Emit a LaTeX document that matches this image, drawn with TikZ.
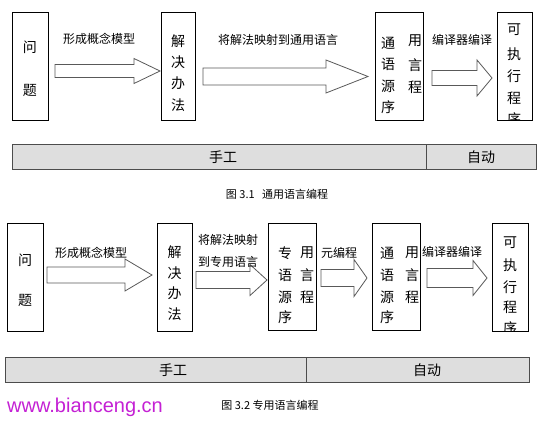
\documentclass[tikz,border=0pt]{standalone}
\usepackage{fontspec}
\newfontfamily\cjk{Noto Sans CJK SC}
\newfontfamily\wmfont{Liberation Sans}
\definecolor{barfill}{RGB}{222,222,222}
\definecolor{wmcolor}{RGB}{196,32,212}
\tikzset{
  stepbox/.style={draw=black, line width=0.8pt, anchor=north west, inner sep=0pt},
  boxchar/.style={font=\cjk\fontsize{14}{14}\selectfont, inner sep=0pt},
  lbl/.style={font=\cjk\fontsize{12}{22}\selectfont, inner sep=0pt, align=center},
  fatarrow/.style={draw=black!65, line width=0.8pt, fill=white},
  handbar/.style={draw=black!70, line width=0.8pt, fill=barfill, anchor=north west, inner sep=0pt, minimum height=25pt},
  bartext/.style={font=\cjk\fontsize{14}{14}\selectfont, inner sep=0pt},
  caption/.style={font=\cjk\fontsize{11}{13}\selectfont, inner sep=0pt}
}
% shaft start, shaft end, tip, centre y, shaft half height, head half height
\newcommand{\blockarrow}[6]{%
  \draw[fatarrow] (#1,#4-#5) -- (#2,#4-#5) -- (#2,#4-#6) -- (#3,#4)
    -- (#2,#4+#6) -- (#2,#4+#5) -- (#1,#4+#5) -- cycle;}
\begin{document}
\begin{tikzpicture}[x=1pt,y=-1pt]
  \useasboundingbox (0,0) rectangle (554,423);

  % figure 3.1
  \node[stepbox, minimum width=36pt, minimum height=108pt] (prob1) at (12,12) {};
  \node[stepbox, minimum width=34pt, minimum height=108pt] (sol1) at (161,12) {};
  \node[stepbox, minimum width=48pt, minimum height=108pt] (gen1) at (375,12) {};
  \node[stepbox, minimum width=35pt, minimum height=108pt] (exe1) at (497,12) {};
  \foreach \c/\y [count=\i] in {问/47,题/90} \node[boxchar] (prob1-\i) at (30,\y) {\c};
  \foreach \c/\y [count=\i] in {解/41,决/62,办/83,法/105} \node[boxchar] (sol1-\i) at (178,\y) {\c};
  \foreach \c/\y [count=\i] in {通/43,语/64,源/86,序/107} \node[boxchar] (gen1-l\i) at (388,\y) {\c};
  \foreach \c/\y [count=\i] in {用/41,言/65,程/87} \node[boxchar] (gen1-r\i) at (415,\y) {\c};
  \begin{scope}
    \clip (497,12) rectangle (532,120);
    \foreach \c/\y [count=\i] in {可/30,执/54,行/76,程/98,序/119} \node[boxchar] (exe1-\i) at (514,\y) {\c};
  \end{scope}
  \blockarrow{55}{134}{160}{71}{6.5}{12.5}
  \blockarrow{203}{326}{368}{76.5}{8.5}{16.5}
  \blockarrow{432}{477}{492}{78}{7.5}{18}
  \node[lbl] (model1) at (99,39) {形成概念模型};
  \node[lbl] (map1) at (278,40) {将解法映射到通用语言};
  \node[lbl] (comp1) at (462,40) {编译器编译};
  \node[handbar, minimum width=414pt] (hand1) at (12,144) {};
  \node[handbar, minimum width=110pt] (auto1) at (426,144) {};
  \node[bartext] (handtxt1) at (223,157) {手工};
  \node[bartext] (autotxt1) at (481,157) {自动};
  \node[caption] (cap1) at (277,194) {图 3.1\ \ \ 通用语言编程};

  % figure 3.2
  \node[stepbox, minimum width=36pt, minimum height=108pt] (prob2) at (7,223) {};
  \node[stepbox, minimum width=35pt, minimum height=108pt] (sol2) at (157,223) {};
  \node[stepbox, minimum width=48pt, minimum height=107pt] (dsl2) at (268,223) {};
  \node[stepbox, minimum width=48pt, minimum height=107pt] (gen2) at (372,223) {};
  \node[stepbox, minimum width=36pt, minimum height=108pt] (exe2) at (492,223) {};
  \foreach \c/\y [count=\i] in {问/260,题/300} \node[boxchar] (prob2-\i) at (25,\y) {\c};
  \foreach \c/\y [count=\i] in {解/252,决/273,办/293,法/314} \node[boxchar] (sol2-\i) at (174.5,\y) {\c};
  \foreach \c/\y [count=\i] in {专/253,语/275,源/297,序/317} \node[boxchar] (dsl2-l\i) at (285,\y) {\c};
  \foreach \c/\y [count=\i] in {用/253,言/275,程/297} \node[boxchar] (dsl2-r\i) at (307,\y) {\c};
  \foreach \c/\y [count=\i] in {通/253,语/275,源/297,序/317} \node[boxchar] (gen2-l\i) at (387,\y) {\c};
  \foreach \c/\y [count=\i] in {用/253,言/275,程/297} \node[boxchar] (gen2-r\i) at (412,\y) {\c};
  \begin{scope}
    \clip (492,223) rectangle (528,331);
    \foreach \c/\y [count=\i] in {可/243,执/265,行/287,程/307,序/328} \node[boxchar] (exe2-\i) at (510,\y) {\c};
  \end{scope}
  \blockarrow{47}{125}{152}{275}{8}{16}
  \blockarrow{196}{250}{267}{280}{8.5}{15.5}
  \blockarrow{321}{354}{367}{278}{8.5}{18.5}
  \blockarrow{427}{473}{487}{278}{9.5}{17.5}
  \node[lbl] (model2) at (91,253) {形成概念模型};
  \node[lbl] (map2) at (228,251) {将解法映射\\到专用语言};
  \node[lbl] (meta2) at (339,253) {元编程};
  \node[lbl] (comp2) at (452,252) {编译器编译};
  \node[handbar, minimum width=301pt] (hand2) at (5,357) {};
  \node[handbar, minimum width=223pt] (auto2) at (306,357) {};
  \node[bartext] (handtxt2) at (173,370) {手工};
  \node[bartext] (autotxt2) at (427,370) {自动};
  \node[caption] (cap2) at (270,405) {图 3.2 专用语言编程};
  \node[font=\wmfont\fontsize{20}{20}\selectfont, text=wmcolor, anchor=west, inner sep=0pt] (site) at (7,407) {www.bianceng.cn};
\end{tikzpicture}
\end{document}
